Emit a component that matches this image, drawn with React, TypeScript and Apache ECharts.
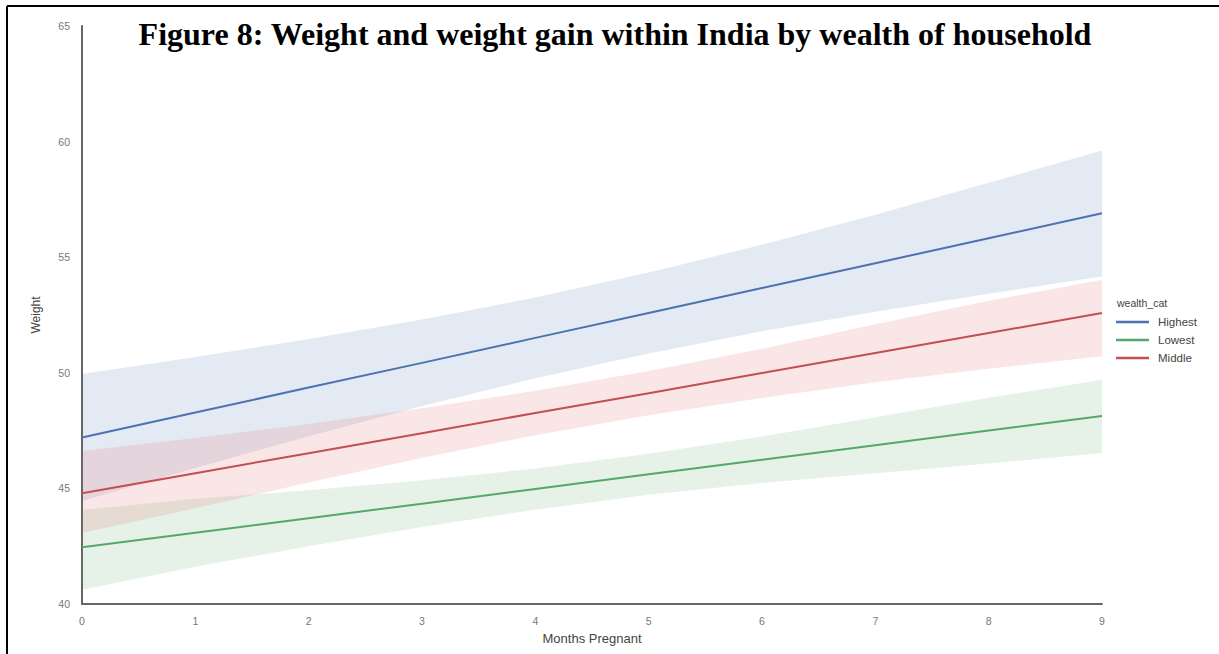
import React, { useEffect, useRef } from "react";
import * as echarts from "echarts";

const months = ["0", "1", "2", "3", "4", "5", "6", "7", "8", "9"];

const highestMean = [47.2, 48.28, 49.36, 50.43, 51.51, 52.59, 53.67, 54.74, 55.82, 56.9];
const highestUpper = [49.95, 50.68, 51.46, 52.3, 53.26, 54.34, 55.54, 56.84, 58.22, 59.62];
const highestLower = [44.45, 45.88, 47.26, 48.56, 49.76, 50.84, 51.8, 52.64, 53.42, 54.16];

const lowestMean = [42.45, 43.08, 43.71, 44.34, 44.97, 45.61, 46.24, 46.87, 47.5, 48.13];
const lowestUpper = [44.07, 44.55, 44.92, 45.35, 45.86, 46.5, 47.25, 48.08, 48.92, 49.7];
const lowestLower = [40.62, 41.61, 42.5, 43.33, 44.08, 44.72, 45.23, 45.66, 46.08, 46.53];

const middleMean = [44.79, 45.66, 46.52, 47.39, 48.26, 49.12, 49.99, 50.86, 51.72, 52.59];
const middleUpper = [46.62, 47.18, 47.79, 48.47, 49.22, 50.08, 51.04, 52.1, 53.12, 54.02];
const middleLower = [43.07, 44.14, 45.25, 46.31, 47.3, 48.16, 48.91, 49.59, 50.18, 50.72];

const seriesNames = ["Highest", "Lowest", "Middle"];
const colors = ["#4C72B0", "#55A868", "#C44E52"];
const bandColors = ["rgba(76,114,176,0.15)", "rgba(85,168,104,0.15)", "rgba(226,90,96,0.15)"];

const titleText = "Figure 8: Weight and weight gain within India by wealth of household";

export default function App() {
  const ref = useRef<HTMLDivElement>(null);
  useEffect(() => {
    if (!ref.current) return;
    const chart = echarts.init(ref.current, null, { renderer: "svg" });
    const means = [highestMean, lowestMean, middleMean];
    const uppers = [highestUpper, lowestUpper, middleUpper];
    const lowers = [highestLower, lowestLower, middleLower];
    const bandSeries: any[] = [];
    seriesNames.forEach((name, i) => {
      bandSeries.push({
        name: name + "_lo",
        type: "line",
        stack: "band" + i,
        data: lowers[i],
        symbol: "none",
        lineStyle: { opacity: 0 },
        silent: true,
        z: 1,
      });
      bandSeries.push({
        name: name + "_band",
        type: "line",
        stack: "band" + i,
        data: uppers[i].map((u, k) => +(u - lowers[i][k]).toFixed(3)),
        symbol: "none",
        lineStyle: { opacity: 0 },
        areaStyle: { color: bandColors[i], opacity: 1 },
        silent: true,
        z: 1,
      });
    });
    const lineSeries = seriesNames.map((name, i) => ({
      name,
      type: "line",
      data: means[i],
      symbol: "none",
      lineStyle: { color: colors[i], width: 2 },
      itemStyle: { color: colors[i] },
      z: 3,
    }));

    chart.setOption({
      animation: false,
      backgroundColor: "#ffffff",
      textStyle: { fontFamily: "Liberation Sans" },
      grid: { left: 82, right: 117, top: 26, bottom: 50 },
      xAxis: {
        type: "category",
        data: months,
        boundaryGap: false,
        name: "Months Pregnant",
        nameLocation: "middle",
        nameGap: 28,
        nameTextStyle: { color: "#444", fontSize: 13, fontFamily: "Liberation Sans" },
        axisLine: { lineStyle: { color: "#666", width: 2 } },
        axisTick: { show: false },
        axisLabel: { color: "#777", fontSize: 10.5, margin: 11, fontFamily: "Liberation Sans" },
        splitLine: { show: false },
      },
      yAxis: {
        type: "value",
        min: 40,
        max: 65,
        interval: 5,
        name: "Weight",
        nameLocation: "middle",
        nameGap: 40,
        nameTextStyle: { color: "#444", fontSize: 12, fontFamily: "Liberation Sans" },
        axisLine: { show: true, lineStyle: { color: "#666", width: 2 } },
        axisTick: { show: false },
        axisLabel: { color: "#777", fontSize: 10.5, margin: 12, fontFamily: "Liberation Sans" },
        splitLine: { show: false },
      },
      legend: {
        data: seriesNames,
        orient: "vertical",
        left: 1111,
        top: 310,
        icon: "rect",
        itemWidth: 33,
        itemHeight: 2.5,
        itemGap: 4,
        textStyle: { color: "#444", fontSize: 11.5, lineHeight: 14, fontFamily: "Liberation Sans", padding: [0, 0, 0, 4] },
        selectedMode: false,
      },
      graphic: [
        {
          type: "text",
          left: 1117,
          top: 297,
          style: { text: "wealth_cat", fill: "#444", fontSize: 10.5, fontFamily: "Liberation Sans" },
        },
        {
          type: "text",
          x: 615,
          y: 34,
          style: {
            text: titleText,
            fill: "#000",
            fontSize: 32,
            fontWeight: "bold",
            fontFamily: "Liberation Serif",
            align: "center",
            verticalAlign: "middle",
          },
          z: 10,
        },
        {
          type: "line",
          shape: { x1: 7, y1: 6, x2: 1219, y2: 6 },
          style: { stroke: "#000", lineWidth: 2 },
        },
        {
          type: "line",
          shape: { x1: 7, y1: 6, x2: 7, y2: 654 },
          style: { stroke: "#000", lineWidth: 2 },
        },
      ],
      series: [...bandSeries, ...lineSeries],
    });
    return () => chart.dispose();
  }, []);
  return (
    <div
      ref={ref}
      style={{ position: "fixed", left: 0, top: 0, width: 1219, height: 654 }}
    />
  );
}
